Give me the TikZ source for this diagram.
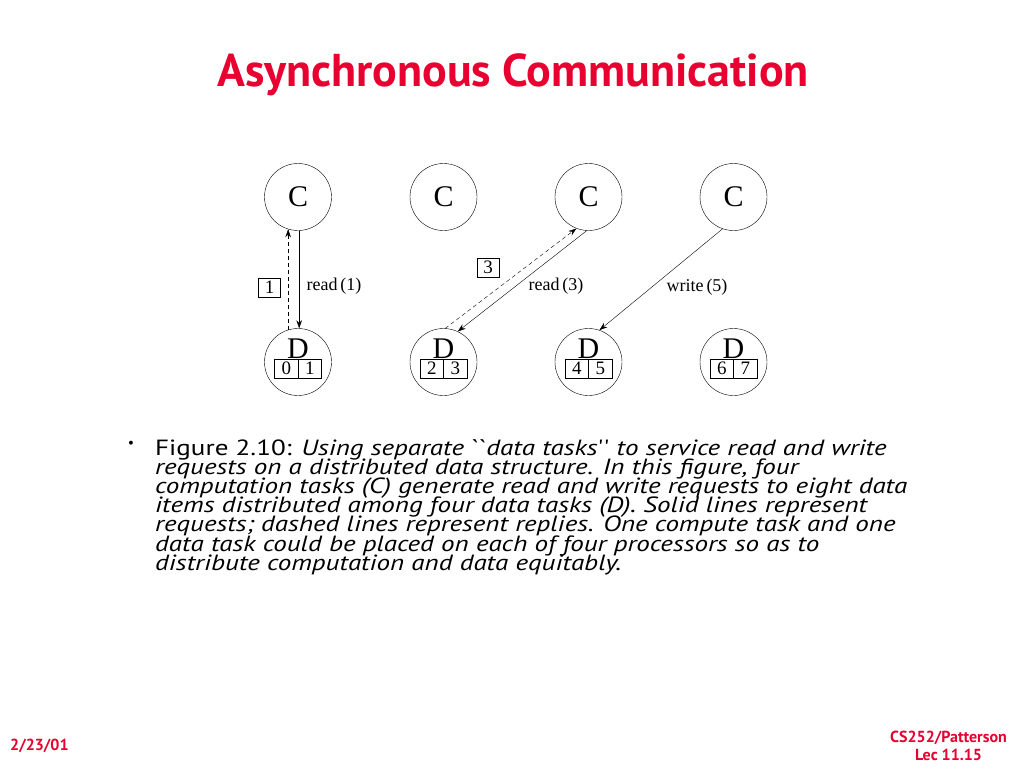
\documentclass[tikz,border=0pt]{standalone}
\usepackage{fontspec}
\setmainfont{PT Sans}
\newfontfamily\diafont{Liberation Serif}
\newfontfamily\qfont{PT Sans Italic}[Ligatures=TeXOff]
\usetikzlibrary{arrows.meta}
\definecolor{titlered}{RGB}{232,0,48}
\newcommand{\grv}{{\qfont\char"60}}
\newcommand{\apo}{{\qfont\char"27}}
\tikzset{
  cnode/.style={circle,draw,thin,minimum size=67pt,inner sep=0pt,font=\diafont\fontsize{30}{30}\selectfont},
  dcirc/.style={circle,draw,thin,minimum size=67pt,inner sep=0pt},
  dlet/.style={inner sep=0pt,anchor=base,font=\diafont\fontsize{30}{30}\selectfont},
  cell/.style={draw,thin,minimum width=23.5pt,minimum height=19pt,inner sep=0pt,font=\diafont\fontsize{19}{19}\selectfont},
  numbox/.style={draw,thin,minimum width=22pt,minimum height=19pt,inner sep=0pt,font=\diafont\fontsize{19}{19}\selectfont},
  lbl/.style={inner sep=0pt,font=\diafont\fontsize{18}{18}\selectfont},
  req/.style={thin,-{Stealth[length=8pt,width=5.5pt]}},
  rep/.style={thin,dashed,dash pattern=on 4pt off 3pt,-{Stealth[length=8pt,width=5.5pt]}},
  foot/.style={text=titlered,inner sep=0pt,font=\bfseries\fontsize{16}{18}\selectfont}
}
\begin{document}
\begin{tikzpicture}[x=1pt,y=-1pt]
\useasboundingbox[fill=white] (0,0) rectangle (1024,768);
\node[text=titlered,font=\bfseries\fontsize{46}{46}\selectfont,inner sep=0pt] (title) at (513,75) {Asynchronous Communication};
% C and D nodes
\foreach \i/\x in {1/298,2/443.5,3/588.5,4/733.5}{
  \node[cnode] (c\i) at (\x,197) {C};
  \node[dcirc] (d\i) at (\x,362) {};
}
\node[dlet] (dl1) at (298,358) {D};
\node[dlet] (dl2) at (443.5,358) {D};
\node[dlet] (dl3) at (588.5,358) {D};
\node[dlet] (dl4) at (733.5,358) {D};
\node[cell] (d1a) at (286.25,368.5) {0};
\node[cell] (d1b) at (309.75,368.5) {1};
\node[cell] (d2a) at (431.75,368.5) {2};
\node[cell] (d2b) at (455.25,368.5) {3};
\node[cell] (d3a) at (576.75,368.5) {4};
\node[cell] (d3b) at (600.25,368.5) {5};
\node[cell] (d4a) at (721.75,368.5) {6};
\node[cell] (d4b) at (745.25,368.5) {7};
% connectors
\draw[req] (c1.-88) -- (d1.88);
\draw[rep] (d1.107) -- (c1.253);
\draw[req] (c3.267) -- (d2.65);
\draw[rep] (d2.87) -- (c3.249);
\draw[req] (c4.251) -- (d3.71);
% labels
\node[numbox] (b1) at (269.5,287.5) {1};
\node[lbl] (r1) at (334,286) {read\,(1)};
\node[numbox] (b3) at (488,267.5) {3};
\node[lbl] (r3) at (556,286) {read\,(3)};
\node[lbl] (w5) at (697,287) {write\,(5)};
% body text
\node[inner sep=0pt,font=\fontsize{14}{14}\selectfont] (bul) at (131,444) {\textbullet};
\node[anchor=north west,inner sep=0pt,font=\fontsize{22}{19.2}\selectfont] (body) at (155,439) {%
\scalebox{1.23}[1]{\parbox[t]{620pt}{\raggedright\lineskiplimit=-30pt
Figure 2.10: \textit{Using separate \grv\grv data tasks\apo\apo\ to service read and write}\\
\textit{requests on a distributed data structure. In this figure, four}\\
\textit{computation tasks (C) generate read and write requests to eight data}\\
\textit{items distributed among four data tasks (D). Solid lines represent}\\
\textit{requests; dashed lines represent replies. One compute task and one}\\
\textit{data task could be placed on each of four processors so as to}\\
\textit{distribute computation and data equitably.}}}};
% footer
\node[foot,anchor=west] (date) at (10,746) {2/23/01};
\node[foot,align=center] (course) at (948.5,746) {CS252/Patterson\\Lec 11.15};
\end{tikzpicture}
\end{document}
